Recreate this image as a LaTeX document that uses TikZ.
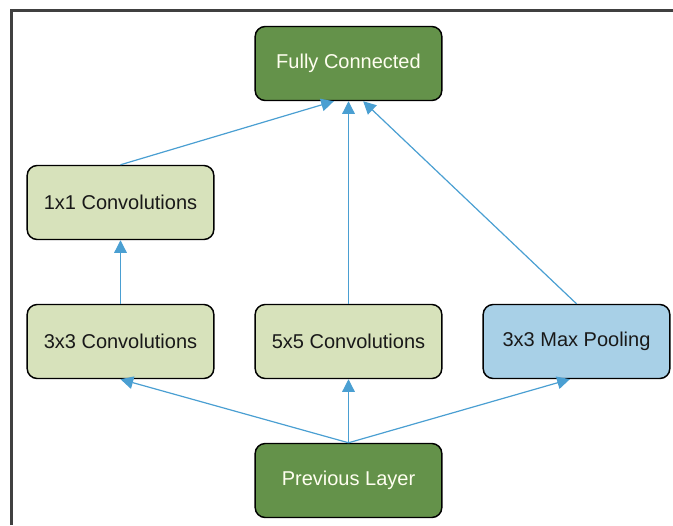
\documentclass[tikz,border=0pt]{standalone}
\usepackage{fontspec}
\setmainfont{Liberation Sans}
\usetikzlibrary{arrows.meta}
\definecolor{dkgreen}{HTML}{64924A}
\definecolor{ltgreen}{HTML}{D7E2BB}
\definecolor{ltblue}{HTML}{A8D0E7}
\definecolor{arrowblue}{HTML}{4A9FD2}
\definecolor{frame}{HTML}{404040}
\begin{document}
\begin{tikzpicture}[x=0.75pt,y=-0.75pt,
  box/.style={draw=black, line width=1.1pt, rounded corners=7.5pt, minimum width=140pt, minimum height=55.5pt, inner sep=0pt, font=\fontsize{15}{17}\selectfont},
  dark/.style={box, fill=dkgreen, text=white!94!yellow},
  light/.style={box, fill=ltgreen, text=black!90},
  blue/.style={box, fill=ltblue, text=black!90},
  conn/.style={draw=arrowblue, line width=0.9pt, -{Triangle[length=9.5pt,width=9.5pt]}}]
\useasboundingbox (0,0) rectangle (673,525);
\draw[frame, line width=1.6pt] (11.5,525) -- (11.5,10.5) -- (673,10.5);
\node[dark]  (fc)   at (348.5,63.5)  {Fully Connected};
\node[light] (c1)   at (120.5,202.5) {1x1 Convolutions};
\node[light] (c3)   at (120.5,341.5) {3x3 Convolutions};
\node[light] (c5)   at (348.5,341.5) {5x5 Convolutions};
\node[blue]  (mp)   at (576.5,341.5) {3x3 Max Pooling};
\node[dark]  (prev) at (348.5,480.5) {Previous Layer};
\draw[conn] (prev.north) -- (c3.south);
\draw[conn] (prev.north) -- (c5.south);
\draw[conn] (prev.north) -- ([xshift=-5pt]mp.south);
\draw[conn] (c3.north) -- (c1.south);
\draw[conn] (c1.north) -- ([xshift=-11pt]fc.south);
\draw[conn] (c5.north) -- (fc.south);
\draw[conn] (mp.north) -- ([xshift=11pt]fc.south);
\end{tikzpicture}
\end{document}
